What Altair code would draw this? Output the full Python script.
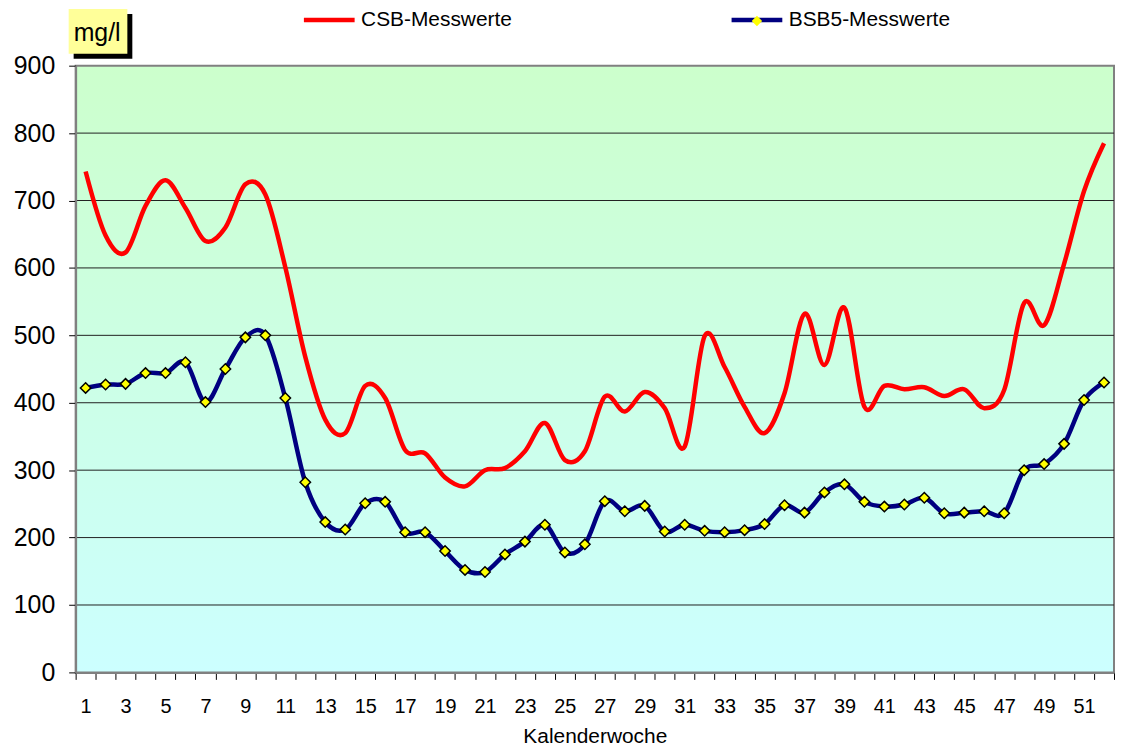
import altair as alt
import pandas as pd

weeks = list(range(1, 53))
csb = [743, 648, 623, 692, 730, 689, 640, 660, 724, 709, 601, 468, 375, 355, 425, 407,
       330, 325, 289, 276, 300, 303, 328, 370, 315, 328, 409, 387, 416, 392, 335, 499,
       453, 394, 355, 414, 532, 456, 541, 394, 425, 420, 423, 410, 420, 392, 419, 548,
       515, 606, 714, 785]
bsb5 = [422, 427, 428, 444, 444, 460, 401, 450, 497, 500, 407, 282, 223, 212, 251, 253,
        208, 208, 180, 152, 149, 175, 194, 219, 178, 190, 254, 239, 247, 209, 219, 210,
        208, 211, 220, 248, 237, 267, 279, 253, 246, 249, 259, 236, 237, 239, 236, 300,
        309, 339, 404, 430]
series_names = ["CSB-Messwerte", "BSB5-Messwerte"]
series_colors = ["#FF0000", "#000080"]
y_ticks = [0, 100, 200, 300, 400, 500, 600, 700, 800, 900]
grid_values = [100, 200, 300, 400, 500, 600, 700, 800]
unit_label = "mg/l"
x_title = "Kalenderwoche"

FONT = "Liberation Sans"
W, H = 1044, 610

rows = []
for w, c in zip(weeks, csb):
    rows.append({"week": w, "series": series_names[0], "value": c})
for w, b in zip(weeks, bsb5):
    rows.append({"week": w, "series": series_names[1], "value": b, "marker": series_names[1]})
df = pd.DataFrame(rows)
df_b = df[df["series"] == series_names[1]]

x_enc = alt.X(
    "week:O",
    scale=alt.Scale(type="band", paddingInner=0, paddingOuter=0),
    axis=alt.Axis(
        title=x_title, titleFontSize=21, titleFont=FONT, titleFontWeight="normal",
        titleColor="black", titlePadding=9,
        labelExpr="datum.value % 2 == 1 ? datum.label : ''",
        labelAngle=0, labelFontSize=20, labelFont=FONT, labelColor="black",
        labelPadding=17, labelOverlap=False, labelFlush=False,
        tickBand="extent", tickSize=7, tickColor="black", tickWidth=1,
        domainColor="#808080", domainWidth=2, grid=False, zindex=1,
    ),
)
y_scale = alt.Scale(domain=[0, 900], nice=False, zero=True)
y_axis = alt.Axis(
    title=None, values=y_ticks, labelFontSize=25, labelFont=FONT, labelColor="black",
    labelPadding=14, tickSize=7, tickColor="black", tickWidth=1,
    domainColor="#808080", domainWidth=2, grid=False, zindex=1,
)

one = pd.DataFrame({"a": [0]})

background = alt.Chart(one).mark_rect(
    fill=alt.Gradient(
        gradient="linear",
        stops=[alt.GradientStop(color="#CCFFCC", offset=0),
               alt.GradientStop(color="#CCFFFF", offset=1)],
        x1=0, x2=0, y1=0, y2=1,
    ),
    stroke="#808080", strokeWidth=2,
).encode(x=alt.value(0), x2=alt.value(W), y=alt.value(0), y2=alt.value(H))

grid = alt.Chart(pd.DataFrame({"value": grid_values})).mark_rule(
    color="#202020", strokeWidth=1
).encode(y=alt.Y("value:Q", scale=y_scale, axis=y_axis))

lines = alt.Chart(df).mark_line(interpolate="cardinal", strokeWidth=4.5).encode(
    x=x_enc,
    y=alt.Y("value:Q", scale=y_scale, axis=y_axis),
    color=alt.Color(
        "series:N",
        scale=alt.Scale(domain=series_names, range=series_colors),
        sort=series_names,
        legend=alt.Legend(
            title=None, orient="none", direction="horizontal", legendX=227, legendY=-74,
            symbolType="stroke", symbolSize=2601, symbolStrokeWidth=4.5,
            labelFontSize=21, labelFont=FONT, labelColor="black", labelOffset=4,
            labelLimit=400, columnPadding=211, padding=0,
        ),
    ),
)

points = alt.Chart(df_b).mark_point(
    shape="diamond", filled=True, fill="#FFFF00", stroke="black", strokeWidth=1.5,
    size=110, opacity=1,
).encode(
    x=x_enc,
    y=alt.Y("value:Q", scale=y_scale, axis=y_axis),
    shape=alt.Shape(
        "marker:N",
        scale=alt.Scale(domain=[series_names[1]], range=["diamond"]),
        legend=alt.Legend(
            title=None, orient="none", legendX=679, legendY=-51, labelExpr="''",
            labelFontSize=6, symbolFillColor="#FFFF00", symbolStrokeColor="black",
            symbolStrokeWidth=1.5, symbolSize=110, padding=0,
        ),
    ),
)

shadow = alt.Chart(one).mark_rect(fill="black").encode(
    x=alt.value(-2), x2=alt.value(57), y=alt.value(-52), y2=alt.value(-7)
)
box = alt.Chart(one).mark_rect(fill="#FFFF99").encode(
    x=alt.value(-7), x2=alt.value(52), y=alt.value(-57), y2=alt.value(-12)
)
unit = alt.Chart(one).mark_text(
    text=unit_label, font=FONT, fontSize=25, color="black", align="left", baseline="alphabetic"
).encode(x=alt.value(-2), y=alt.value(-25))

chart = alt.layer(background, grid, lines, points, shadow, box, unit).properties(
    width=W, height=H,
    padding={"left": 68, "top": 56, "right": 2, "bottom": 72},
    autosize=alt.AutoSizeParams(type="none"),
).configure_view(stroke="transparent").configure(background="white")

chart.save("out.html", embed_options={"renderer": "svg", "actions": False})
